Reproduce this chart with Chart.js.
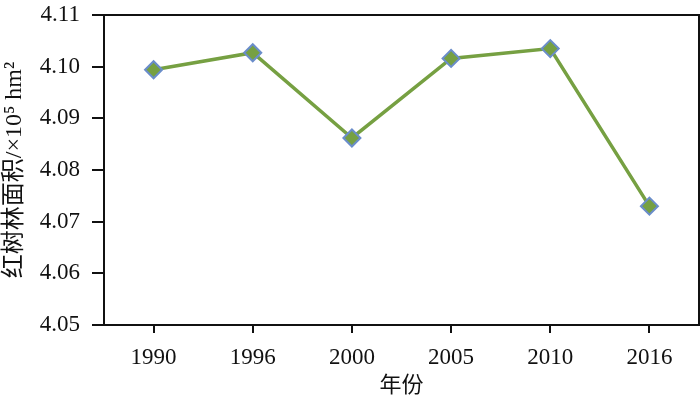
<!DOCTYPE html>
<html>
<head>
<meta charset="utf-8">
<script src="https://cdn.jsdelivr.net/npm/chart.js@4.4.1/dist/chart.umd.min.js"></script>
<style>
  html, body { margin: 0; padding: 0; background: #fff; }
  #wrap { width: 700px; height: 399px; }
</style>
</head>
<body>
<div id="wrap"><canvas id="myChart" width="700" height="399"></canvas></div>
<script>
// data
var years = ['1990', '1996', '2000', '2005', '2010', '2016'];
var area = [4.0994, 4.1027, 4.0862, 4.1016, 4.1035, 4.0730];
var yMin = 4.05, yMax = 4.11, yStep = 0.01;

var serif = '"Liberation Serif", "Times New Roman", "Noto Sans CJK SC", serif';
var lineColor = '#76a042';
var markerEdge = '#6a8dca';

// box around the plot area
var frame = {
  id: 'frame',
  afterDraw: function(chart) {
    var a = chart.chartArea, ctx = chart.ctx;
    ctx.save();
    ctx.strokeStyle = '#111';
    ctx.lineWidth = 2;
    ctx.strokeRect(a.left, a.top, a.right - a.left, a.bottom - a.top);
    ctx.restore();
  }
};

var ctx = document.getElementById('myChart').getContext('2d');
new Chart(ctx, {
  type: 'line',
  data: {
    labels: years,
    datasets: [{
      data: area,
      borderColor: lineColor,
      borderWidth: 3.5,
      pointStyle: 'rectRot',
      pointRadius: 8.5,
      pointBackgroundColor: lineColor,
      pointBorderColor: markerEdge,
      pointBorderWidth: 2,
      tension: 0,
      fill: false
    }]
  },
  options: {
    responsive: false,
    animation: false,
    events: [],
    layout: { autoPadding: false, padding: { top: 15, right: 1, left: 0, bottom: 0 } },
    plugins: { legend: { display: false }, tooltip: { enabled: false } },
    scales: {
      x: {
        offset: true,
        grid: { drawOnChartArea: false, tickLength: 8, color: '#111', lineWidth: 2 },
        border: { display: false },
        ticks: { color: '#111', font: { family: serif, size: 23 }, padding: 11, maxRotation: 0 },
        title: { display: true, text: '年份', color: '#111', font: { family: serif, size: 22 }, padding: { top: 0, bottom: 0 } },
        afterFit: function(s) { s.height = 74; s.paddingLeft = 0; s.paddingRight = 0; }
      },
      y: {
        min: yMin,
        max: yMax,
        grid: { drawOnChartArea: false, tickLength: 12, color: '#111', lineWidth: 2 },
        border: { display: false },
        ticks: {
          stepSize: yStep,
          color: '#111',
          font: { family: serif, size: 23 },
          padding: 12,
          callback: function(v) { return v.toFixed(2); }
        },
        title: { display: true, text: '红树林面积/×10⁵ hm²', color: '#111', font: { family: serif, size: 24 }, padding: { top: 0, bottom: 0 } },
        afterFit: function(s) { s.width = 104; s.paddingTop = 0; s.paddingBottom = 0; }
      }
    }
  },
  plugins: [frame]
});
</script>
</body>
</html>
